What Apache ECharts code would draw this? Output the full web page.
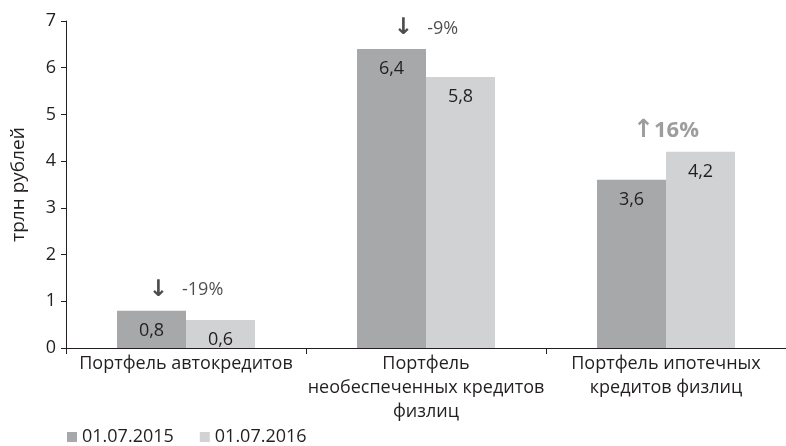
<!DOCTYPE html>
<html>
<head>
<meta charset="utf-8">
<script src="https://cdn.jsdelivr.net/npm/echarts@6/dist/echarts.min.js"></script>
<style>
  html, body { margin: 0; padding: 0; background: #fff; }
  #chart { width: 786px; height: 446px; }
</style>
</head>
<body>
<div id="chart"></div>
<script>
// Loan portfolios, trillion roubles
const categories = [
  'Портфель автокредитов',
  'Портфель\nнеобеспеченных кредитов\nфизлиц',
  'Портфель ипотечных\nкредитов физлиц'
];
const seriesNames = ['01.07.2015', '01.07.2016'];
const values2015 = [0.8, 6.4, 3.6];
const values2016 = [0.6, 5.8, 4.2];
// year-on-year change shown above each pair
const changeLabels = ['-19%', '-9%', '16%'];
const changeUp = [false, false, true];
const yTicks = [0, 1, 2, 3, 4, 5, 6, 7];

const FONT = '"Open Sans", "Noto Sans", sans-serif';
const TEXT = '#231f20';

const fmt = v => String(v).replace('.', ',');

// Anchor for the change note: the taller bar of each pair
const changeAnchors = categories.map((c, i) => ({
  value: [c, Math.max(values2015[i], values2016[i])],
  label: { formatter: changeUp[i] ? '{up|↑}{upt|' + changeLabels[i] + '}' : '{dn|↓}{dnt|   ' + changeLabels[i] + '}' }
}));

const chart = echarts.init(document.getElementById('chart'), null, { renderer: 'canvas' });
chart.setOption({
  animation: false,
  textStyle: { fontFamily: FONT },
  grid: { left: 66, top: 21, width: 729, bottom: 98, containLabel: false },
  legend: {
    left: 67, top: 428,
    padding: 0,
    itemWidth: 10, itemHeight: 10, itemGap: 26,
    icon: 'rect',
    textStyle: { fontFamily: FONT, fontSize: 18, color: TEXT },
    data: seriesNames
  },
  xAxis: {
    type: 'category',
    data: categories,
    axisLine: { lineStyle: { color: '#231f20', width: 1 } },
    axisTick: { show: true, length: 6, alignWithLabel: false, lineStyle: { color: '#231f20' } },
    axisLabel: { fontFamily: FONT, fontSize: 18, color: TEXT, lineHeight: 24, margin: 4, interval: 0 }
  },
  yAxis: {
    type: 'value',
    min: yTicks[0], max: yTicks[yTicks.length - 1], interval: 1,
    name: 'трлн рублей',
    nameLocation: 'middle',
    nameGap: 38,
    nameRotate: 90,
    nameTextStyle: { fontFamily: FONT, fontSize: 19, color: TEXT },
    axisLine: { show: true, lineStyle: { color: '#231f20', width: 1 } },
    axisTick: { show: true, length: 5, lineStyle: { color: '#231f20' } },
    splitLine: { show: false },
    axisLabel: { fontFamily: FONT, fontSize: 18, color: TEXT, margin: 10 }
  },
  series: [
    {
      name: seriesNames[0], type: 'bar', data: values2015,
      barWidth: 69, barGap: '0%',
      itemStyle: { color: '#a7a8aa' },
      label: { show: true, position: 'insideTop', distance: 11, fontFamily: FONT, fontSize: 18, color: TEXT, formatter: p => fmt(p.value) }
    },
    {
      name: seriesNames[1], type: 'bar', data: values2016,
      barWidth: 69,
      itemStyle: { color: '#d1d2d4' },
      label: { show: true, position: 'insideTop', distance: 11, fontFamily: FONT, fontSize: 18, color: TEXT, formatter: p => fmt(p.value) }
    },
    {
      type: 'scatter', data: changeAnchors,
      symbolSize: 0, silent: true, z: 5,
      label: {
        show: true, position: 'top', distance: 9,
        rich: {
          dn: { fontFamily: 'DejaVu Sans', fontSize: 23, fontWeight: 'bold', color: TEXT },
          dnt: { fontFamily: FONT, fontSize: 18, color: TEXT },
          up: { fontFamily: 'DejaVu Sans', fontSize: 25, fontWeight: 'bold', color: '#858585' },
          upt: { fontFamily: FONT, fontSize: 22, fontWeight: 'bold', color: '#858585' }
        }
      }
    }
  ]
});
</script>
</body>
</html>
